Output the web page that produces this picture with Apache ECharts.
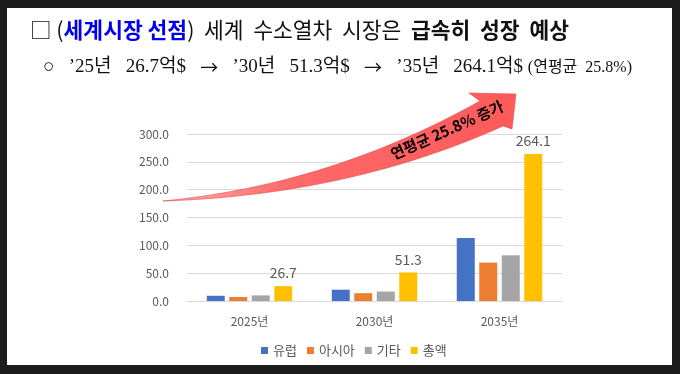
<!DOCTYPE html>
<html>
<head>
<meta charset="utf-8">
<script src="https://cdn.jsdelivr.net/npm/echarts@6/dist/echarts.min.js"></script>
<style>
html,body{margin:0;padding:0;background:#1c1c1c;}
#c{width:680px;height:374px;}
</style>
</head>
<body>
<div id="c"></div>
<script>
const categories = ['2025년', '2030년', '2035년'];
const europe = [9.4, 20.3, 113.0];
const asia = [7.2, 14.0, 69.0];
const others = [10.1, 17.0, 82.1];
const total = [26.7, 51.3, 264.1];
const seriesNames = ['유럽', '아시아', '기타', '총액'];
const yTicks = [0, 50, 100, 150, 200, 250, 300];

const FONT = '"Noto Sans CJK KR", "Noto Sans", sans-serif';
const SERIF = '"Liberation Serif", "DejaVu Serif", "Noto Sans CJK KR", serif';
const colors = ['#4472C4', '#ED7D31', '#A5A5A5', '#FFC000'];

// decorative arrow outline (quadratic curves sampled)
function quad(p0, p1, p2, n) {
  const pts = [];
  for (let i = 0; i <= n; i++) {
    const t = i / n, u = 1 - t;
    pts.push([u*u*p0[0] + 2*u*t*p1[0] + t*t*p2[0], u*u*p0[1] + 2*u*t*p1[1] + t*t*p2[1]]);
  }
  return pts;
}
const upper = quad([163, 201], [330, 185], [480, 101], 40);
const lower = quad([503, 126], [350, 195], [163, 201], 40);
const arrowPts = upper.concat([[469, 93], [516, 94], [512, 129]]).concat(lower);

const chart = echarts.init(document.getElementById('c'));
const mkBar = (name, data, i, withLabel) => ({
  name: name, type: 'bar', data: data,
  barWidth: 18, barGap: '25%',
  itemStyle: { color: colors[i] },
  label: withLabel ? { show: true, position: 'top', distance: 6, color: '#595959', fontSize: 14, fontFamily: FONT,
    formatter: p => p.value.toFixed(1) } : { show: false },
  z: 2
});

chart.setOption({
  animation: false,
  backgroundColor: '#1c1c1c',
  textStyle: { fontFamily: FONT },
  grid: { left: 187, right: 118, top: 134, bottom: 73 },
  xAxis: {
    type: 'category', data: categories,
    axisLine: { lineStyle: { color: '#d9d9d9' } },
    axisTick: { show: false },
    axisLabel: { color: '#595959', fontSize: 12, margin: 14, fontFamily: FONT }
  },
  yAxis: {
    type: 'value', min: yTicks[0], max: yTicks[yTicks.length - 1], interval: 50,
    axisLine: { show: false }, axisTick: { show: false },
    splitLine: { lineStyle: { color: '#d9d9d9' } },
    axisLabel: { color: '#595959', fontSize: 12, margin: 18, fontFamily: FONT, formatter: v => v.toFixed(1) }
  },
  legend: {
    left: 256, top: 339, itemWidth: 7, itemHeight: 7, itemGap: 10, icon: 'rect',
    textStyle: { color: '#595959', fontSize: 13, fontFamily: FONT },
    data: seriesNames
  },
  series: [
    mkBar(seriesNames[0], europe, 0, false),
    mkBar(seriesNames[1], asia, 1, false),
    mkBar(seriesNames[2], others, 2, false),
    mkBar(seriesNames[3], total, 3, true)
  ],
  graphic: [
    { type: 'rect', z: -10, shape: { x: 7, y: 8, width: 665, height: 357 }, style: { fill: '#ffffff' }, silent: true },
    {
      type: 'text', x: 30, y: 19, z: 10,
      style: {
        rich: {
          n: { fontSize: 21.5, fontFamily: FONT, fill: '#111' },
          b: { fontSize: 21.5, fontFamily: FONT, fill: '#0000ee', fontWeight: 'bold' },
          k: { fontSize: 21.5, fontFamily: FONT, fill: '#111', fontWeight: 'bold' }
        },
        text: '{n|□ (}{b|세계시장 선점}{n|)  세계  수소열차  시장은  }{k|급속히  성장  예상}'
      }
    },
    {
      type: 'text', x: 43, y: 58, z: 10,
      style: {
        rich: {
          n: { fontSize: 19, fontFamily: SERIF, fill: '#111' },
          a: { fontSize: 18, fontFamily: FONT, fill: '#111' },
          s: { fontSize: 16, fontFamily: SERIF, fill: '#111' }
        },
        text: '{n|○   ’25년   26.7억$   }{a|→}{n|   ’30년   51.3억$   }{a|→}{n|   ’35년   264.1억$ }{s|(연평균  25.8%)}'
      }
    },
    {
      type: 'polygon', z: 5, silent: true,
      shape: { points: arrowPts },
      style: {
        fill: { type: 'linear', x: 0, y: 0, x2: 1, y2: 0, colorStops: [
          { offset: 0, color: '#ffb0b0' }, { offset: 0.35, color: '#ff6a6a' }, { offset: 1, color: '#ff5a5a' } ] },
        stroke: '#e04848', lineWidth: 0.6
      }
    },
    {
      type: 'text', z: 6, x: 447, y: 130, rotation: 24 * Math.PI / 180,
      style: { text: '연평균 25.8% 증가', fontSize: 15, fontWeight: 'bold', fontFamily: FONT, fill: '#000',
        align: 'center', verticalAlign: 'middle' }
    }
  ]
});
</script>
</body>
</html>
